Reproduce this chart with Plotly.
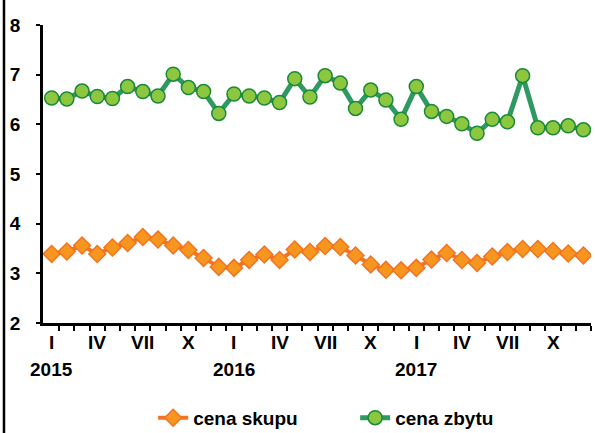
import plotly.graph_objects as go

# Monthly prices, January 2015 - December 2017
months = list(range(36))
cena_skupu = [3.39, 3.44, 3.56, 3.39, 3.52, 3.61, 3.73, 3.68, 3.56, 3.47, 3.31, 3.13,
              3.11, 3.27, 3.38, 3.27, 3.48, 3.43, 3.55, 3.53, 3.36, 3.18, 3.07, 3.06,
              3.11, 3.28, 3.41, 3.27, 3.21, 3.34, 3.43, 3.49, 3.49, 3.45, 3.40, 3.36]
cena_zbytu = [6.53, 6.51, 6.67, 6.56, 6.52, 6.76, 6.66, 6.57, 7.01, 6.74, 6.66, 6.22,
              6.61, 6.57, 6.53, 6.44, 6.92, 6.55, 6.98, 6.83, 6.32, 6.69, 6.49, 6.10,
              6.76, 6.26, 6.16, 6.01, 5.82, 6.10, 6.05, 6.98, 5.93, 5.93, 5.97, 5.89]

month_labels = ["I", "IV", "VII", "X"]
years = ["2015", "2016", "2017"]
y_ticks = [2, 3, 4, 5, 6, 7, 8]

FONT = "Liberation Sans, Arial, sans-serif"
BOLD = dict(family=FONT, size=19, color="black", weight="bold")

fig = go.Figure()
fig.add_trace(go.Scatter(
    x=months, y=cena_skupu, name="cena skupu", mode="lines+markers",
    line=dict(color="#f37321", width=4),
    marker=dict(symbol="diamond", size=13, color="#f7961e",
                line=dict(color="#f37321", width=1.5)),
))
fig.add_trace(go.Scatter(
    x=months, y=cena_zbytu, name="cena zbytu", mode="lines+markers",
    line=dict(color="#2e9960", width=5),
    marker=dict(symbol="circle", size=14, color="#8dc63f",
                line=dict(color="#1a8a3a", width=1.5)),
))

# Month and year labels under the category axis
for i in range(0, 36, 3):
    fig.add_annotation(x=i, y=0, xref="x", yref="paper", yanchor="top",
                       yshift=-7, text=month_labels[(i // 3) % 4], showarrow=False,
                       font=BOLD)
for k, yr in enumerate(years):
    fig.add_annotation(x=12 * k, y=0, xref="x", yref="paper", yanchor="top",
                       yshift=-34, text=yr, showarrow=False, font=BOLD)

# Outer chart border on the left edge
fig.add_shape(type="line", xref="paper", yref="paper",
              x0=-0.0712, x1=-0.0712, y0=-0.5, y1=1.1,
              line=dict(color="black", width=2.5))

fig.update_xaxes(
    range=[-0.57, 35.5], showline=True, linecolor="black", linewidth=2.5,
    tickvals=[i - 0.5 for i in range(1, 37)], ticktext=[""] * 36,
    ticks="outside", ticklen=5, tickwidth=2, tickcolor="black",
    showgrid=False, zeroline=False,
)
fig.update_yaxes(
    range=[2, 8], tickvals=y_ticks, showline=True, linecolor="black", linewidth=2.5,
    ticks="outside", ticklen=4, tickwidth=2, tickcolor="black",
    showgrid=False, zeroline=False, ticklabelstandoff=12,
    tickfont=BOLD,
)

fig.update_layout(
    width=595, height=433,
    margin=dict(l=43, r=4, t=25, b=110, autoexpand=False),
    plot_bgcolor="white", paper_bgcolor="white",
    font=BOLD,
    showlegend=True,
    legend=dict(orientation="h", x=0.201, xanchor="left",
                yref="container", y=0.035, yanchor="middle",
                entrywidth=157, entrywidthmode="pixels",
                font=BOLD, tracegroupgap=0),
)

fig.write_html("out.html")
